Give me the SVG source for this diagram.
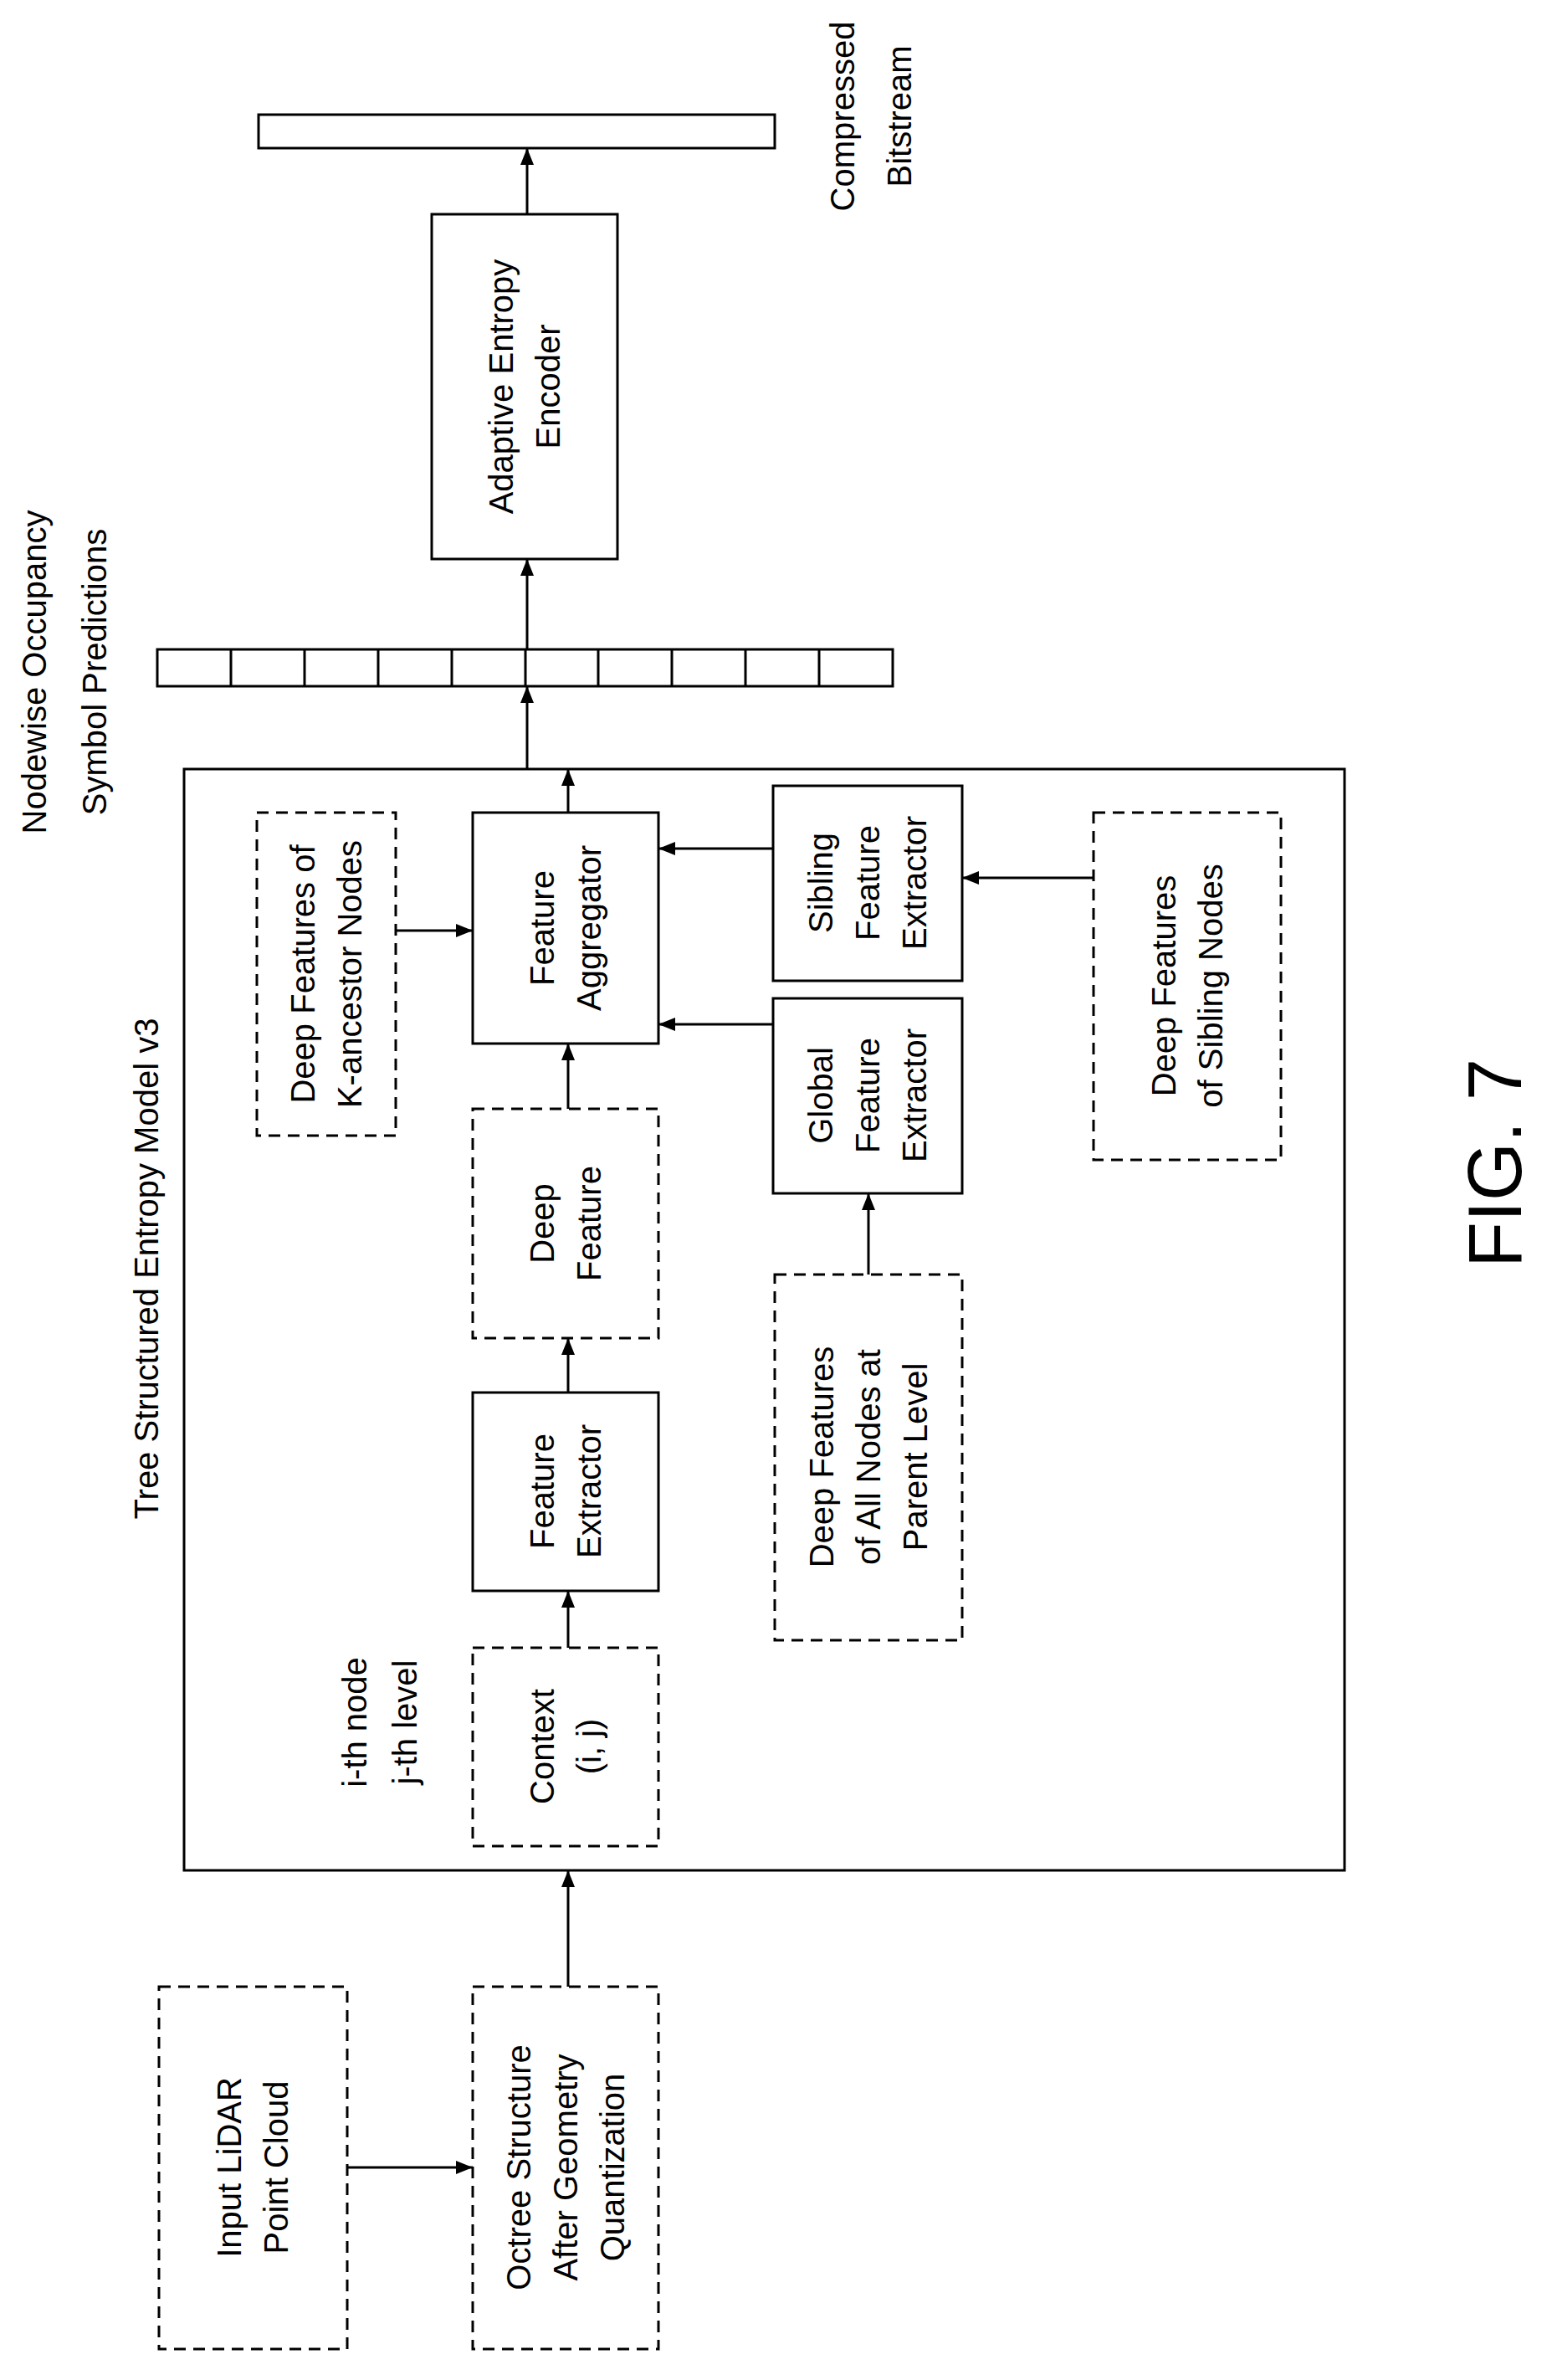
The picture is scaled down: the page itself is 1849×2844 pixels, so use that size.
<svg xmlns="http://www.w3.org/2000/svg" width="1849" height="2844" viewBox="0 0 1849 2844">
<style>
.b{fill:#fff;stroke:#000;stroke-width:3}
.d{fill:#fff;stroke:#000;stroke-width:3;stroke-dasharray:14 9}
.t{font-family:"Liberation Sans",Arial,sans-serif;font-size:40px;text-anchor:middle;dominant-baseline:central;fill:#000}
.c line{stroke:#000;stroke-width:3}
</style>
<defs><marker id="a" markerWidth="10" markerHeight="10" refX="9" refY="5" orient="auto" markerUnits="userSpaceOnUse" viewBox="0 0 10 10"><path d="M0,0L10,5L0,10z" fill="#000"/></marker>
<marker id="ar" markerWidth="22" markerHeight="22" refX="20" refY="11" orient="auto" markerUnits="userSpaceOnUse"><path d="M0,3L20,11L0,19z" fill="#000"/></marker></defs>
<rect width="1849" height="2844" fill="#fff"/>
<g id="bitstream"><rect class="b" x="309" y="137" width="617" height="40"/></g>
<g id="encoder"><rect class="b" x="516" y="256" width="222" height="412"/>
<text class="t" transform="translate(627,462) rotate(-90)"><tspan x="0" y="-28">Adaptive Entropy</tspan><tspan x="0" y="28">Encoder</tspan></text></g>
<g id="symbols"><rect class="b" x="188" y="776" width="879" height="44"/>
<path d="M276,776V820M364,776V820M452,776V820M540,776V820M628,776V820M715,776V820M803,776V820M891,776V820M979,776V820" stroke="#000" stroke-width="3"/></g>
<g id="model"><rect class="b" x="220" y="919" width="1387" height="1316"/>
<text class="t" transform="translate(175,1516) rotate(-90)">Tree Structured Entropy Model v3</text></g>
<g id="aggregator"><rect class="b" x="565" y="971" width="222" height="276"/>
<text class="t" transform="translate(676,1109) rotate(-90)"><tspan x="0" y="-28">Feature</tspan><tspan x="0" y="28">Aggregator</tspan></text></g>
<g id="kancestor"><rect class="d" x="307" y="971" width="166" height="386"/>
<text class="t" transform="translate(390,1164) rotate(-90)"><tspan x="0" y="-28">Deep Features of</tspan><tspan x="0" y="28">K-ancestor Nodes</tspan></text></g>
<g id="sibling"><rect class="b" x="924" y="939" width="226" height="233"/>
<text class="t" transform="translate(1037,1055) rotate(-90)"><tspan x="0" y="-56">Sibling</tspan><tspan x="0" y="0">Feature</tspan><tspan x="0" y="56">Extractor</tspan></text></g>
<g id="global"><rect class="b" x="924" y="1193" width="226" height="233"/>
<text class="t" transform="translate(1037,1309) rotate(-90)"><tspan x="0" y="-56">Global</tspan><tspan x="0" y="0">Feature</tspan><tspan x="0" y="56">Extractor</tspan></text></g>
<g id="siblingnodes"><rect class="d" x="1307" y="971" width="224" height="415"/>
<text class="t" transform="translate(1419,1178) rotate(-90)"><tspan x="0" y="-28">Deep Features</tspan><tspan x="0" y="28">of Sibling Nodes</tspan></text></g>
<g id="allnodes"><rect class="d" x="926" y="1523" width="224" height="437"/>
<text class="t" transform="translate(1038,1741) rotate(-90)"><tspan x="0" y="-56">Deep Features</tspan><tspan x="0" y="0">of All Nodes at</tspan><tspan x="0" y="56">Parent Level</tspan></text></g>
<g id="deepfeature"><rect class="d" x="565" y="1325" width="222" height="274"/>
<text class="t" transform="translate(676,1462) rotate(-90)"><tspan x="0" y="-28">Deep</tspan><tspan x="0" y="28">Feature</tspan></text></g>
<g id="extractor"><rect class="b" x="565" y="1664" width="222" height="237"/>
<text class="t" transform="translate(676,1782) rotate(-90)"><tspan x="0" y="-28">Feature</tspan><tspan x="0" y="28">Extractor</tspan></text></g>
<g id="context"><rect class="d" x="565" y="1969" width="222" height="237"/>
<text class="t" transform="translate(676,2087) rotate(-90)"><tspan x="0" y="-28">Context</tspan><tspan x="0" y="28">(i, j)</tspan></text></g>
<g id="ij"><text class="t" transform="translate(454,2058) rotate(-90)"><tspan x="0" y="-30">i-th node</tspan><tspan x="0" y="30">j-th level</tspan></text></g>
<g id="octree"><rect class="d" x="565" y="2374" width="222" height="433"/>
<text class="t" transform="translate(676,2590) rotate(-90)"><tspan x="0" y="-56">Octree Structure</tspan><tspan x="0" y="0">After Geometry</tspan><tspan x="0" y="56">Quantization</tspan></text></g>
<g id="lidar"><rect class="d" x="190" y="2374" width="225" height="433"/>
<text class="t" transform="translate(302,2590) rotate(-90)"><tspan x="0" y="-28">Input LiDAR</tspan><tspan x="0" y="28">Point Cloud</tspan></text></g>
<g id="labels">
<text class="t" transform="translate(77,803) rotate(-90)"><tspan x="0" y="-36">Nodewise Occupancy</tspan><tspan x="0" y="36">Symbol Predictions</tspan></text>
<text class="t" transform="translate(1041,139) rotate(-90)"><tspan x="0" y="-34">Compressed</tspan><tspan x="0" y="34">Bitstream</tspan></text>
<text class="t" style="font-size:90px" transform="translate(1787,1390) rotate(-90)">FIG. 7</text>
</g>
<g class="c" id="connectors">
<line x1="630" y1="256" x2="630" y2="177" marker-end="url(#ar)"/>
<line x1="630" y1="776" x2="630" y2="668" marker-end="url(#ar)"/>
<line x1="630" y1="919" x2="630" y2="820" marker-end="url(#ar)"/>
<line x1="679" y1="971" x2="679" y2="919" marker-end="url(#ar)"/>
<line x1="473" y1="1112" x2="565" y2="1112" marker-end="url(#ar)"/>
<line x1="924" y1="1014" x2="787" y2="1014" marker-end="url(#ar)"/>
<line x1="924" y1="1224" x2="787" y2="1224" marker-end="url(#ar)"/>
<line x1="1307" y1="1049" x2="1150" y2="1049" marker-end="url(#ar)"/>
<line x1="1038" y1="1523" x2="1038" y2="1426" marker-end="url(#ar)"/>
<line x1="679" y1="1325" x2="679" y2="1247" marker-end="url(#ar)"/>
<line x1="679" y1="1664" x2="679" y2="1599" marker-end="url(#ar)"/>
<line x1="679" y1="1969" x2="679" y2="1901" marker-end="url(#ar)"/>
<line x1="679" y1="2374" x2="679" y2="2235" marker-end="url(#ar)"/>
<line x1="415" y1="2590" x2="565" y2="2590" marker-end="url(#ar)"/>
</g>
</svg>
